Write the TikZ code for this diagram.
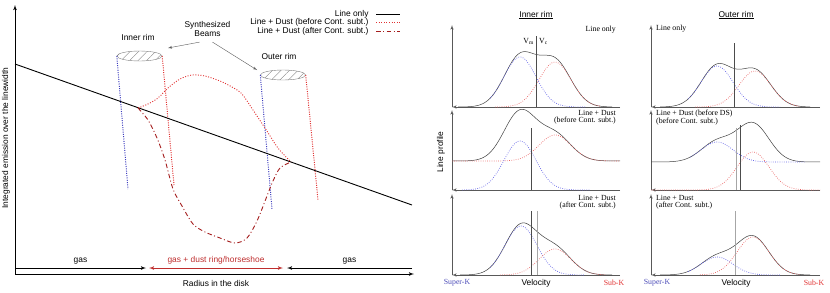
\documentclass[tikz,border=0pt]{standalone}
\usepackage{fontspec}
\setmainfont{Liberation Sans}
\newfontfamily\tmsfont{Liberation Serif}
\usetikzlibrary{arrows,patterns.meta,shapes.geometric}
\definecolor{bluedot}{RGB}{60,60,190}
\definecolor{reddot}{RGB}{225,50,50}
\definecolor{darkred}{RGB}{165,30,30}
\definecolor{ringred}{RGB}{190,45,45}
\definecolor{pblue}{RGB}{95,95,230}
\definecolor{pred}{RGB}{235,100,100}
\def\gb#1#2{(#1)*exp(-0.5*((\x-(#2))/16)^2)}

\begin{document}
\begin{tikzpicture}[x=1pt,y=-1pt,>=latex',
    sflab/.style={font=\fontsize{8.4}{9}\selectfont},
    tmlab/.style={font=\tmsfont\fontsize{7.8}{7.6}\selectfont,inner sep=0pt},
    axisln/.style={line width=0.8pt},
    lineonly/.style={line width=0.9pt},
    ldust/.style={reddot,line width=0.9pt,dash pattern=on 1pt off 1.6pt},
    ldustcs/.style={darkred,line width=0.9pt,dash pattern=on 4.5pt off 2.5pt on 1pt off 2.5pt},
    bdot/.style={bluedot,line width=1pt,dash pattern=on 1pt off 1.3pt},
    rdot/.style={reddot,line width=1pt,dash pattern=on 1pt off 1.3pt},
    beamell/.style={ellipse,draw=gray,thin,minimum width=45pt,minimum height=10pt,inner sep=0pt,
        pattern={Lines[angle=45,distance=6pt,line width=0.4pt]},pattern color=gray},
    pointer/.style={gray!70!black,thin,-latex'},
    paxis/.style={gray!70!black,line width=0.6pt},
    prof/.style={black!75,line width=0.5pt},
    pb/.style={pblue,line width=0.7pt,dash pattern=on 0.7pt off 1.5pt},
    pr/.style={pred,line width=0.7pt,dash pattern=on 0.7pt off 1.5pt},
    vdark/.style={black!70,line width=0.5pt},
    vlight/.style={black!35,line width=0.5pt}]
    \useasboundingbox (0,0) rectangle (830,292);

    % ---- left: integrated emission vs radius
    \coordinate (O) at (15,274);
    \coordinate (ytop) at (15,5);
    \coordinate (xend) at (414,274);
    \draw[axisln,->] (O) -- (ytop);
    \draw[axisln,->] (O) -- (xend);
    \node[sflab,rotate=90] (ylab) at (6,138) {Integrated emission over the linewidth};
    \node[sflab] (xlab) at (216,283) {Radius in the disk};

    \coordinate (g1a) at (15,268);
    \coordinate (g1b) at (146,268);
    \coordinate (r1a) at (149,268);
    \coordinate (r1b) at (283,268);
    \coordinate (g2a) at (412,268);
    \coordinate (g2b) at (287,268);
    \draw[->,thick] (g1a) -- node[above,sflab] (gasin) {gas} (g1b);
    \draw[<->,thick,ringred] (r1a) -- node[above,sflab] (ring) {gas + dust ring/horseshoe} (r1b);
    \draw[->,thick] (g2a) -- node[above,sflab] (gasout) {gas} (g2b);

    % legend
    \node[sflab,anchor=east] (lgA) at (372,14) {Line only};
    \node[sflab,anchor=east] (lgB) at (372,22.5) {Line + Dust (before Cont. subt.)};
    \node[sflab,anchor=east] (lgC) at (372,31) {Line + Dust (after Cont. subt.)};
    \draw[lineonly] ([xshift=4pt]lgA.east) -- ++(24,0);
    \draw[ldust] ([xshift=4pt]lgB.east) -- ++(24,0);
    \draw[ldustcs] ([xshift=4pt]lgC.east) -- ++(24,0);

    % beams
    \node[sflab,align=center] (synth) at (207.5,29) {Synthesized\\Beams};
    \node[sflab] (inrim) at (138,37) {Inner rim};
    \node[sflab] (outrim) at (279,56) {Outer rim};
    \node[beamell] (ibeam) at (139.5,56) {};
    \node[beamell] (obeam) at (283,75) {};
    \coordinate (itip) at (168,48);
    \coordinate (otip) at (257,70);
    \draw[pointer] ([xshift=-8pt,yshift=-2pt]synth.south) -- (itip);
    \draw[pointer] ([xshift=5pt,yshift=-2pt]synth.south) -- (otip);
    \coordinate (ibl) at (128,189);
    \coordinate (ibr) at (174,185);
    \coordinate (obl) at (272,209);
    \coordinate (obr) at (318,200);
    \draw[bdot] (ibeam.west) -- (ibl);
    \draw[rdot] (ibeam.east) -- (ibr);
    \draw[bdot] (obeam.west) -- (obl);
    \draw[rdot] (obeam.east) -- (obr);

    % curves
    \coordinate (l0) at (15,64);
    \coordinate (l1) at (412,205);
    \draw[lineonly] (l0) -- (l1);
    \draw[ldust] plot[smooth] coordinates {(138,108) (148,104) (158,98) (168,88) (180,79) (192,75)
        (205,76) (220,81) (232,87) (242,94) (253,110) (265,128) (278,148) (291,162)};
    \draw[ldustcs] plot[smooth] coordinates {(138,108) (148,120) (157,138) (165,160) (173,189)
        (182,206) (193,224) (205,232) (220,238) (235,243) (247,238) (257,221) (267,196)
        (273,181) (280,168) (291,162)};

    % ---- right: line profiles
    \node[sflab] (tin) at (536,15) {\underline{Inner rim}};
    \node[sflab] (tout) at (736,15) {\underline{Outer rim}};
    \node[sflab,rotate=90] (lprof) at (441,152) {Line profile};
    \foreach \xa/\xb in {452/620,651/820}
        \foreach \yb/\yt in {107/25,190/110,275/194} {
            \coordinate (a-\xa-\yb) at (\xa,\yb);
            \draw[paxis,->] (a-\xa-\yb) -- (\xa,\yt);
            \draw[paxis,->] (\xb,\yb) -- (a-\xa-\yb);
        }

    % inner rim, line only
    \draw[prof] plot[domain=458:612,samples=90] (\x,{107-\gb{50}{520}-\gb{45}{555}});
    \draw[pb] plot[domain=490:585,samples=50] (\x,{107-\gb{50}{520}});
    \draw[pr] plot[domain=495:600,samples=50] (\x,{107-\gb{45}{555}});
    \draw[vdark] (536,36) -- (536,107);
    \node[tmlab,anchor=east] (vm) at (534,41) {V\textsubscript{m}};
    \node[tmlab,anchor=west] (vc) at (539,41) {V\textsubscript{c}};
    \node[tmlab,anchor=east] (ia) at (616,30) {Line only};

    % inner rim, before continuum subtraction
    \draw[prof] plot[domain=452:620,samples=100] (\x,{161-\gb{49}{520}-\gb{26}{555}});
    \draw[pb] plot[domain=462:590,samples=60] (\x,{190-\gb{49}{520}});
    \draw[pr] plot[domain=452:620,samples=80] (\x,{161-\gb{26}{555}});
    \draw[vdark] (531,128) -- (531,190);
    \node[tmlab,anchor=north east,align=right] (ib) at (616,110) {Line + Dust\\(before Cont. subt.)};

    % inner rim, after continuum subtraction
    \draw[prof] plot[domain=460:612,samples=90] (\x,{275-\gb{49}{521}-\gb{26}{555}});
    \draw[pb] plot[domain=490:585,samples=50] (\x,{275-\gb{49}{521}});
    \draw[pr] plot[domain=500:605,samples=50] (\x,{275-\gb{26}{555}});
    \draw[vdark] (531,211) -- (531,275);
    \draw[vlight] (537,211) -- (537,275);
    \node[tmlab,anchor=north east,align=right] (ic) at (616,195) {Line + Dust\\(after Cont. subt.)};

    % outer rim, line only
    \draw[prof] plot[domain=660:810,samples=90] (\x,{107-\gb{41}{717}-\gb{36}{755}});
    \draw[pb] plot[domain=688:780,samples=50] (\x,{107-\gb{41}{717}});
    \draw[pr] plot[domain=695:800,samples=50] (\x,{107-\gb{36}{755}});
    \draw[vdark] (734,43) -- (734,107);
    \node[tmlab,anchor=west] (oa) at (656,29) {Line only};

    % outer rim, before continuum subtraction
    \draw[prof] plot[domain=651:820,samples=100] (\x,{162-\gb{20}{717}-\gb{38}{753}});
    \draw[pb] plot[domain=690:805,samples=60] (\x,{162-\gb{20}{717}});
    \draw[pr] plot[domain=651:820,samples=80] (\x,{190-\gb{38}{753}});
    \draw[vlight] (736,128) -- (736,190);
    \draw[vdark] (740,125) -- (740,190);
    \node[tmlab,anchor=north west,align=left] (ob) at (656,110) {Line + Dust (before DS)\\(before Cont. subt.)};

    % outer rim, after continuum subtraction
    \draw[prof] plot[domain=660:810,samples=90] (\x,{275-\gb{18}{717}-\gb{38}{753}});
    \draw[pb] plot[domain=688:780,samples=50] (\x,{275-\gb{18}{717}});
    \draw[pr] plot[domain=700:800,samples=50] (\x,{275-\gb{38}{753}});
    \draw[vlight] (735,211) -- (735,275);
    \node[tmlab,anchor=north west,align=left] (oc) at (656,195) {Line + Dust\\(after Cont. subt.)};

    % velocity axis labels
    \foreach \xc/\nm in {0/i,200/o} {
        \node[tmlab,text=pblue!80!black] (sk-\nm) at (457+\xc,283) {Super-K};
        \node[sflab] (vel-\nm) at (536+\xc,283) {Velocity};
        \node[tmlab,text=reddot] (sbk-\nm) at (614+\xc,283) {Sub-K};
    }
\end{tikzpicture}
\end{document}
